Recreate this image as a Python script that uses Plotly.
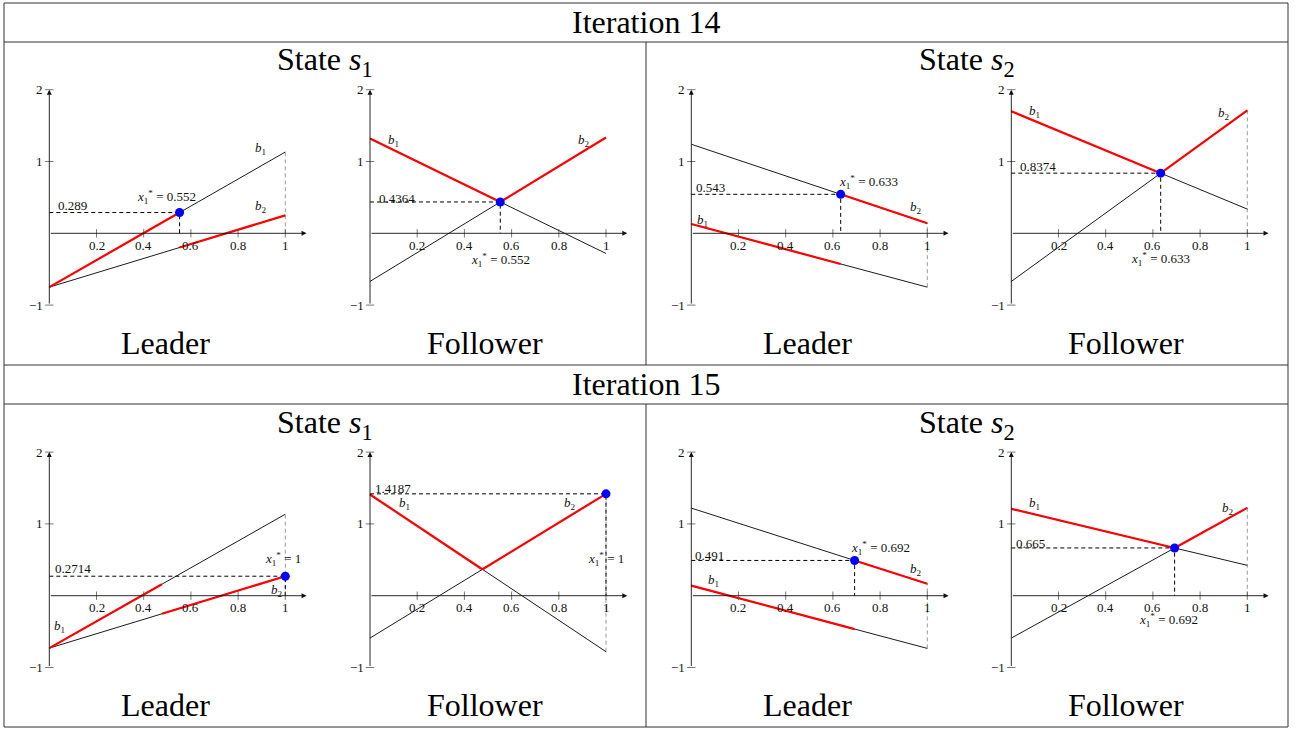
import plotly.graph_objects as go

W, H = 1305, 729
FONT = "Liberation Serif"

# ---- data -------------------------------------------------------------
iteration_titles = ["Iteration 14", "Iteration 15"]
state_titles = ["State <i>s</i><sub>1</sub>", "State <i>s</i><sub>2</sub>"]
role_titles = ["Leader", "Follower"]

x_ticks = [0.2, 0.4, 0.6, 0.8, 1]
x_tick_labels = ["0.2", "0.4", "0.6", "0.8", "1"]
y_ticks = [-1, 1, 2]
y_tick_labels = ["\u22121", "1", "2"]

# panel order: it14 s1 leader, it14 s1 follower, it14 s2 leader, it14 s2 follower,
#              it15 s1 leader, it15 s1 follower, it15 s2 leader, it15 s2 follower
b1_start = [-0.75, 1.32, 0.13, 1.70, -0.73, 1.41, 0.14, 1.21]
b1_end = [1.132, -0.281, -0.75, 0.337, 1.135, -0.78, -0.734, 0.4224]
b2_start = [-0.75, -0.67, 1.24, -0.67, -0.73, -0.59, 1.22, -0.59]
b2_end = [0.25, 1.334, 0.139, 1.711, 0.2714, 1.4187, 0.166, 1.2236]
switch_x = [0.552, 0.552, 0.633, 0.633, 0.477, 0.477, 0.692, 0.692]
opt_x = [0.552, 0.552, 0.633, 0.633, 1, 1, 0.692, 0.692]
opt_value = [0.289, 0.4364, 0.543, 0.8374, 0.2714, 1.4187, 0.491, 0.665]
opt_value_text = ["0.289", "0.4364", "0.543", "0.8374", "0.2714", "1.4187", "0.491", "0.665"]
opt_x_text = ["0.552", "0.552", "0.633", "0.633", "1", "1", "0.692", "0.692"]
end_guide = [True, False, True, True, True, True, True, True]

# ---- label placement (data units) --------------------------------------
b1_label_pos = [(0.896, 1.18), (0.099, 1.29), (0.047, 0.185), (0.10, 1.69),
                (0.045, -0.43), (0.145, 1.29), (0.094, 0.205), (0.10, 1.29)]
b2_label_pos = [(0.896, 0.38), (0.908, 1.29), (0.951, 0.357), (0.902, 1.67),
                (0.964, 0.07), (0.848, 1.29), (0.952, 0.36), (0.92, 1.22)]
value_label_pos = [(0.099, 0.39), (0.113, 0.49), (0.08, 0.64), (0.112, 0.93),
                   (0.099, 0.38), (0.097, 1.49), (0.077, 0.56), (0.08, 0.73)]
xstar_label_pos = [(0.495, 0.50), (0.553, -0.37), (0.749, 0.72), (0.633, -0.36),
                   (0.99, 0.51), (1.0, 0.51), (0.80, 0.66), (0.668, -0.34)]

# ---- geometry -----------------------------------------------------------
X_RANGE = [-0.2, 1.15]
Y_RANGE = [-1.15, 2.1]
UX, UY = 236.0, 71.8
col_origin_px = [49.3, 370.0, 691.3, 1011.3]
row_origin_px = [233.3, 595.7]

fig = go.Figure()
annotations = []
layout_axes = {}

SMALL = dict(family=FONT, size=13, color="#111")
BIG = dict(family=FONT, size=32, color="#000")

for i in range(8):
    row, col = divmod(i, 4)
    n = "" if i == 0 else str(i + 1)
    xa, ya = "x" + n, "y" + n
    x0p, y0p = col_origin_px[col], row_origin_px[row]
    xdom = [(x0p + X_RANGE[0] * UX) / W, (x0p + X_RANGE[1] * UX) / W]
    ydom = [1 - (y0p - Y_RANGE[0] * UY) / H, 1 - (y0p - Y_RANGE[1] * UY) / H]
    layout_axes["xaxis" + n] = dict(domain=xdom, range=X_RANGE, visible=False,
                                    anchor=ya, fixedrange=True)
    layout_axes["yaxis" + n] = dict(domain=ydom, range=Y_RANGE, visible=False,
                                    anchor=xa, fixedrange=True)

    def add(tr):
        tr.update(xaxis=xa, yaxis=ya, showlegend=False, hoverinfo="skip")
        fig.add_trace(tr)

    # vertical guide at x = 1
    if end_guide[i]:
        lo = min(b1_end[i], b2_end[i], 0)
        hi = max(b1_end[i], b2_end[i], 0)
        add(go.Scatter(x=[1, 1], y=[lo, hi], mode="lines",
                       line=dict(color="#9a9a9a", width=1, dash="4px,3px")))

    # the two payoff lines
    add(go.Scatter(x=[0, 1], y=[b1_start[i], b1_end[i]], mode="lines",
                   line=dict(color="#000", width=0.9)))
    add(go.Scatter(x=[0, 1], y=[b2_start[i], b2_end[i]], mode="lines",
                   line=dict(color="#000", width=0.9)))

    # best-response envelope in red
    s = switch_x[i]
    y1s = b1_start[i] + (b1_end[i] - b1_start[i]) * s
    y2s = b2_start[i] + (b2_end[i] - b2_start[i]) * s
    add(go.Scatter(x=[0, s], y=[b1_start[i], y1s], mode="lines",
                   line=dict(color="#ff0000", width=2.2)))
    add(go.Scatter(x=[s, 1], y=[y2s, b2_end[i]], mode="lines",
                   line=dict(color="#ff0000", width=2.2)))

    # projection of the optimum onto the axes
    add(go.Scatter(x=[0, opt_x[i], opt_x[i]], y=[opt_value[i], opt_value[i], 0],
                   mode="lines", line=dict(color="#000", width=1, dash="4px,3px")))

    # tick marks
    add(go.Scatter(x=x_ticks, y=[0] * len(x_ticks), mode="markers",
                   marker=dict(symbol="line-ns", size=6,
                               line=dict(color="#555", width=0.8))))
    add(go.Scatter(x=[0] * len(y_ticks), y=y_ticks, mode="markers",
                   marker=dict(symbol="line-ew", size=6,
                               line=dict(color="#555", width=0.8))))

    # optimum point
    add(go.Scatter(x=[opt_x[i]], y=[opt_value[i]], mode="markers",
                   marker=dict(color="#0000ff", size=9)))

    # axes with arrow heads
    for (hx, hy, tx, ty) in [(1.09, 0, 0, 0), (0, 2.0, 0, -1.0)]:
        annotations.append(dict(x=hx, y=hy, ax=tx, ay=ty, xref=xa, yref=ya,
                                axref=xa, ayref=ya, text="", showarrow=True,
                                arrowhead=2, arrowsize=1.1, arrowwidth=0.9,
                                arrowcolor="#111", standoff=0, startstandoff=0))

    # tick labels
    for xv, lab in zip(x_ticks, x_tick_labels):
        annotations.append(dict(x=xv, y=0, xref=xa, yref=ya, text=lab,
                                showarrow=False, yshift=-12, font=SMALL,
                                xanchor="center", yanchor="middle"))
    for yv, lab in zip(y_ticks, y_tick_labels):
        annotations.append(dict(x=0, y=yv, xref=xa, yref=ya, text=lab,
                                showarrow=False, xanchor="right", xshift=-4,
                                yanchor="middle", font=SMALL))

    # line and value labels
    texts = [
        (b1_label_pos[i], "<i>b</i><sub>1</sub>"),
        (b2_label_pos[i], "<i>b</i><sub>2</sub>"),
        (value_label_pos[i], opt_value_text[i]),
        (xstar_label_pos[i], "<i>x</i><sub>1</sub><sup>*</sup> = " + opt_x_text[i]),
    ]
    for (px, py), t in texts:
        annotations.append(dict(x=px, y=py, xref=xa, yref=ya, text=t,
                                showarrow=False, font=SMALL,
                                xanchor="center", yanchor="middle"))

# ---- table frame and headings -----------------------------------------
def px_x(v):
    return v / W


def px_y(v):
    return 1 - v / H


shapes = []
FRAME = dict(color="#333", width=1)
shapes.append(dict(type="rect", xref="paper", yref="paper",
                   x0=px_x(4), x1=px_x(1288), y0=px_y(727), y1=px_y(3),
                   line=FRAME))
for yy in [42, 365, 404]:
    shapes.append(dict(type="line", xref="paper", yref="paper",
                       x0=px_x(4), x1=px_x(1288), y0=px_y(yy), y1=px_y(yy),
                       line=FRAME))
for (ya0, ya1) in [(42, 365), (404, 727)]:
    shapes.append(dict(type="line", xref="paper", yref="paper",
                       x0=px_x(646), x1=px_x(646), y0=px_y(ya0), y1=px_y(ya1),
                       line=FRAME))


def heading(cx, cy, text):
    annotations.append(dict(x=px_x(cx), y=px_y(cy), xref="paper", yref="paper",
                            text=text, showarrow=False, font=BIG,
                            xanchor="center", yanchor="middle"))


row_shift = [0, 362]
for r in range(2):
    dy = row_shift[r]
    heading(646, 22 + dy, iteration_titles[r])
    for c, cx in enumerate([325, 967]):
        heading(cx, 62 + dy, state_titles[c])
    for k, cx in enumerate([165, 485, 807, 1126]):
        heading(cx, 343 + dy, role_titles[k % 2])

fig.update_layout(
    width=W, height=H,
    margin=dict(l=0, r=0, t=0, b=0),
    paper_bgcolor="white", plot_bgcolor="white",
    annotations=annotations, shapes=shapes,
    hovermode=False,
    font=dict(family=FONT),
    **layout_axes,
)

fig.write_html("out.html", config={"displayModeBar": False})
